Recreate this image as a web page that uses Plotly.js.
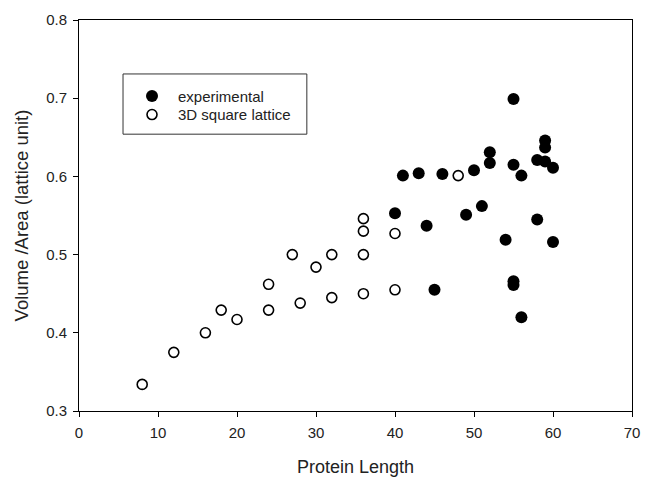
<!DOCTYPE html>
<html>
<head>
<meta charset="utf-8">
<script src="https://cdn.plot.ly/plotly-3.0.1.min.js"></script>
<style>html,body{margin:0;padding:0;background:#fff;}#chart{width:651px;height:477px;}</style>
</head>
<body>
<div id="chart"></div>
<script>
const expX = [55, 59, 59, 52, 52, 55, 58, 59, 60, 41, 43, 46, 50, 56, 40, 44, 49, 51, 58, 54, 60, 55, 55, 45, 56];
const expY = [0.699, 0.646, 0.637, 0.631, 0.617, 0.615, 0.621, 0.619, 0.611, 0.601, 0.604, 0.603, 0.608, 0.601, 0.553, 0.537, 0.551, 0.562, 0.545, 0.519, 0.516, 0.466, 0.461, 0.455, 0.420];
const latX = [8, 12, 16, 18, 20, 24, 24, 27, 28, 30, 32, 32, 36, 36, 36, 36, 40, 40, 48];
const latY = [0.334, 0.375, 0.400, 0.429, 0.417, 0.462, 0.429, 0.500, 0.438, 0.484, 0.500, 0.445, 0.546, 0.530, 0.500, 0.450, 0.527, 0.455, 0.601];
const xTicks = [0, 10, 20, 30, 40, 50, 60, 70];
const yTicks = [0.3, 0.4, 0.5, 0.6, 0.7, 0.8];

const traces = [
  {x: expX, y: expY, type: 'scatter', mode: 'markers', name: 'experimental', legend: 'legend',
   marker: {symbol: 'circle', size: 12, color: '#000', line: {width: 0}}},
  {x: latX, y: latY, type: 'scatter', mode: 'markers', name: '3D square lattice', legend: 'legend2',
   marker: {symbol: 'circle-open', size: 10, color: '#000', line: {width: 1.6}}}
];

const axisBase = {
  showgrid: false, zeroline: false, showline: true, linecolor: '#000', linewidth: 1,
  mirror: true, ticks: 'outside', ticklen: 5, tickcolor: '#000', tickwidth: 1,
  ticklabelstandoff: 3,
  tickfont: {family: 'Liberation Sans, Arial, sans-serif', size: 15, color: '#222'}
};

const legendBase = {xanchor: 'left', yanchor: 'top', borderwidth: 0, bgcolor: 'rgba(0,0,0,0)',
  itemwidth: 42, font: {size: 15, color: '#222'}, tracegroupgap: 0};

const layout = {
  width: 651, height: 477,
  margin: {l: 79, r: 19, t: 20, b: 66},
  paper_bgcolor: '#fff', plot_bgcolor: '#fff',
  font: {family: 'Liberation Sans, Arial, sans-serif', color: '#222'},
  xaxis: Object.assign({}, axisBase, {
    range: [0, 70], tickvals: xTicks, ticktext: xTicks.map(String),
    title: {text: 'Protein Length', font: {size: 18, color: '#222'}, standoff: 23}
  }),
  yaxis: Object.assign({}, axisBase, {
    range: [0.3, 0.8], tickvals: yTicks, ticktext: yTicks.map(v => v.toFixed(1)),
    title: {text: 'Volume /Area (lattice unit)', font: {size: 18.5, color: '#222'}, standoff: 12}
  }),
  shapes: [
    {type: 'rect', xref: 'paper', yref: 'paper', x0: 0.0796, x1: 0.412, y0: 0.708, y1: 0.862,
     line: {color: '#333', width: 1}, fillcolor: 'rgba(0,0,0,0)', layer: 'above'}
  ],
  showlegend: true,
  legend: Object.assign({}, legendBase, {x: 0.085, y: 0.8473}),
  legend2: Object.assign({}, legendBase, {x: 0.085, y: 0.7997})
};

Plotly.newPlot('chart', traces, layout, {displayModeBar: false, staticPlot: true});
</script>
</body>
</html>
